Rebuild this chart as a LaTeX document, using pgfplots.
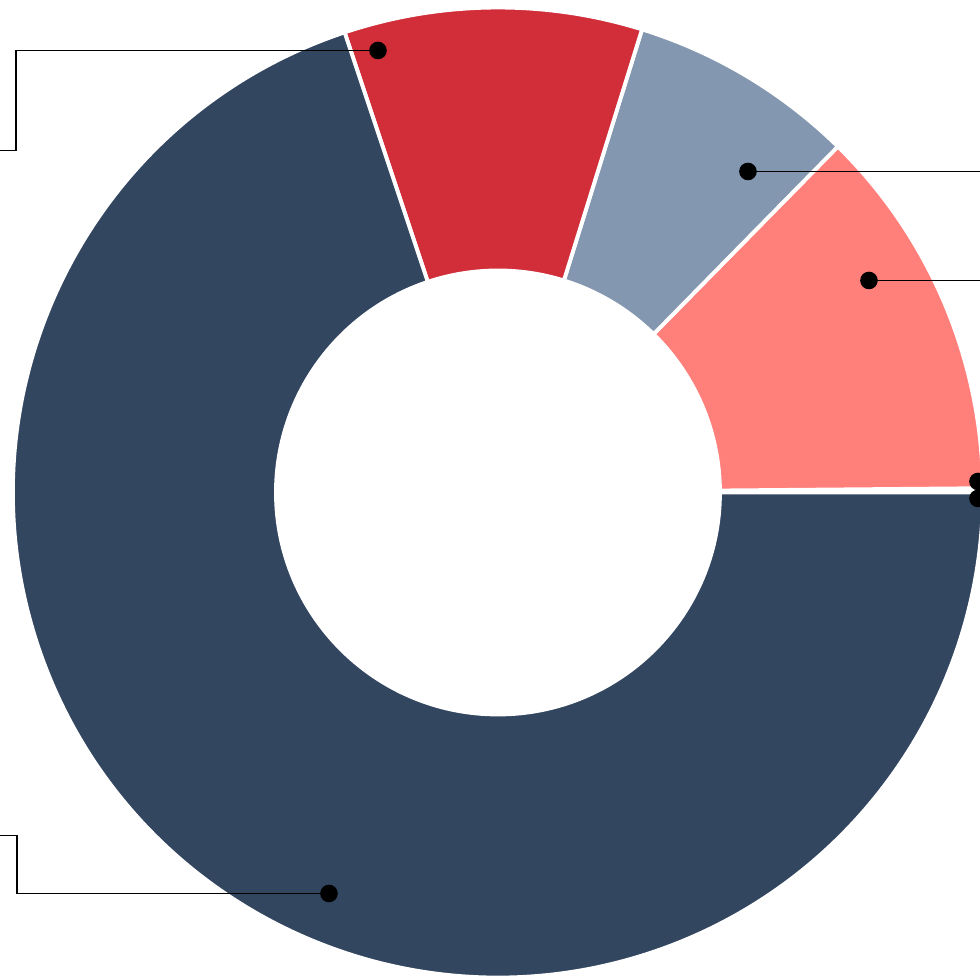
\documentclass[border=0pt]{standalone}
\usepackage{pgfplots}
\usepackage{pgfplotstable}
\pgfplotsset{compat=1.18}

\definecolor{slice0}{RGB}{196,224,176}
\definecolor{slice1}{RGB}{236,244,230}
\definecolor{slice2}{RGB}{255,127,122}
\definecolor{slice3}{RGB}{132,151,176}
\definecolor{slice4}{RGB}{209,46,58}
\definecolor{slice5}{RGB}{51,70,96}

% shares in percent, counter-clockwise from 3 o'clock
\pgfplotstableread{
value
0.08
0.06
12.50
7.56
9.92
69.88
}\slices

\begin{document}
\begin{tikzpicture}
\gdef\acc{0}
\foreach \i in {0,...,5}{
  \pgfplotstablegetelem{\i}{value}\of\slices
  \pgfmathsetmacro\s{\acc}
  \pgfmathsetmacro\e{\acc+3.6*\pgfplotsretval}
  \expandafter\xdef\csname sS\i\endcsname{\s}
  \expandafter\xdef\csname sE\i\endcsname{\e}
  \xdef\acc{\e}
}
\begin{axis}[
  width=9.8cm, height=9.76cm,
  scale only axis,
  hide axis,
  xmin=-498, xmax=482,
  ymin=-483.5, ymax=492.5,
  clip=true,
]
\coordinate (O) at (axis cs:0,0);
\pgfplotsinvokeforeach{0,...,5}{
  \filldraw[fill=slice#1, draw=white, line width=1.1pt]
    ([shift={(\csname sS#1\endcsname:4.85cm)}]O)
      arc[start angle=\csname sS#1\endcsname, end angle=\csname sE#1\endcsname, radius=4.85cm]
    -- ([shift={(\csname sE#1\endcsname:2.22cm)}]O)
      arc[start angle=\csname sE#1\endcsname, end angle=\csname sS#1\endcsname, radius=2.22cm]
    -- cycle;
}
% leader lines
\addplot[black, line width=0.55pt, mark=none] coordinates {(-120,442) (-482,442) (-482,342) (-498,342)};
\addplot[black, line width=0.55pt, mark=none] coordinates {(-169,-401) (-481,-401) (-481,-343) (-498,-343)};
\addplot[black, line width=0.55pt, mark=none] coordinates {(250,321) (482,321)};
\addplot[black, line width=0.55pt, mark=none] coordinates {(371,212) (482,212)};
\addplot[black, line width=0.55pt, mark=none] coordinates {(480,11) (482,11)};
\addplot[black, line width=0.55pt, mark=none] coordinates {(480,-6) (482,-6)};
% label anchors
\addplot[only marks, mark=*, mark size=2.3pt, black] coordinates {
  (-120,442) (250,321) (371,212) (-169,-401) (480,11) (480,-6)};
\end{axis}
\pgfresetboundingbox
\useasboundingbox (0,0) rectangle (9.8cm,9.76cm);
\end{tikzpicture}
\end{document}
